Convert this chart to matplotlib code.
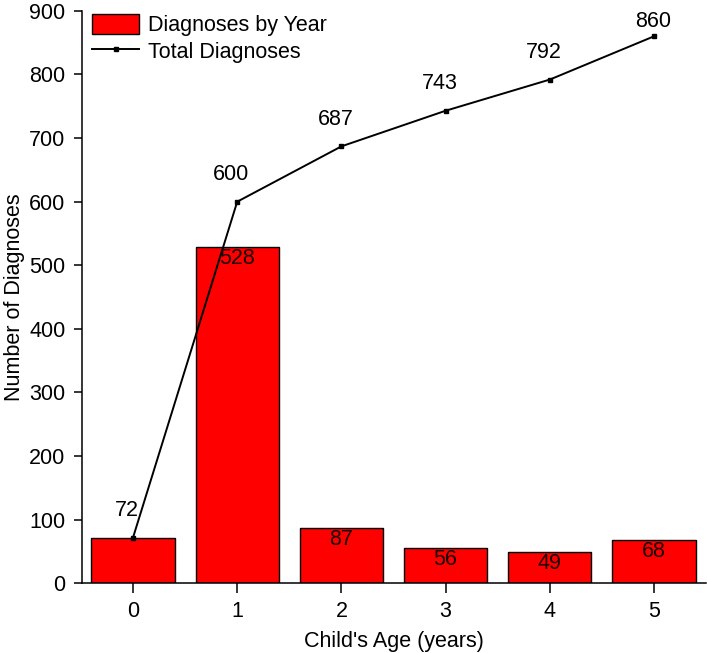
import numpy as np
import matplotlib
matplotlib.use('Agg')
import matplotlib.pyplot as plt
from matplotlib import font_manager

ages = [0, 1, 2, 3, 4, 5]
by_year = [72, 528, 87, 56, 49, 68]
total = [72, 600, 687, 743, 792, 860]
yticks = [0, 100, 200, 300, 400, 500, 600, 700, 800, 900]

fs = 15.5
plt.rcParams['font.family'] = ['Liberation Sans', 'DejaVu Sans']

fig = plt.figure(figsize=(7.07, 6.53), dpi=100)
ax = fig.add_axes([82/707, 1-583.3/653, 624/707, 572.4/653])

bars = ax.bar(ages, by_year, width=0.8, color='#ff0000', edgecolor='black',
              linewidth=1.0, label='Diagnoses by Year', zorder=2)
line, = ax.plot(ages, total, '-s', color='black', lw=1.4, ms=3.5,
                label='Total Diagnoses', zorder=3)

# bar values inside the top of each bar (first one sits with the line label)
for x, v in zip(ages[1:], by_year[1:]):
    ax.annotate(str(v), (x, v), xytext=(0, -8.2), textcoords='offset points',
                ha='center', va='center', fontsize=fs, color='#1a0000', zorder=4)

# cumulative labels above the points
for i, (x, v) in enumerate(zip(ages, total)):
    off = (-4.3, 19.5) if i < len(total)-1 else (-0.7, 10.8)
    ax.annotate(str(v), (x, v), xytext=off, textcoords='offset points',
                ha='center', va='center', fontsize=fs, color='black', zorder=4)

ax.set_xlim(-0.49, 5.5)
ax.set_ylim(0, 900)
ax.set_xticks(ages)
ax.set_yticks(yticks)
ax.tick_params(axis='both', labelsize=fs, width=1.1, direction='out')
ax.tick_params(axis='y', length=6, pad=6)
ax.tick_params(axis='x', length=7, pad=6)
for s in ['top', 'right']:
    ax.spines[s].set_visible(False)
for s in ['left', 'bottom']:
    ax.spines[s].set_linewidth(1.1)

ax.set_xlabel("Child's Age (years)", fontsize=fs, labelpad=6)
ax.set_ylabel('Number of Diagnoses', fontsize=fs, labelpad=3)

ax.legend(handles=[bars, line], loc='upper left',
          bbox_to_anchor=(92/707, 1-14/653),
          bbox_transform=fig.transFigure, frameon=False, fontsize=fs,
          borderpad=0, borderaxespad=0, handlelength=2.2, handleheight=1.05,
          handletextpad=0.4, labelspacing=0.2)

fig.savefig('out.png', dpi=100)
